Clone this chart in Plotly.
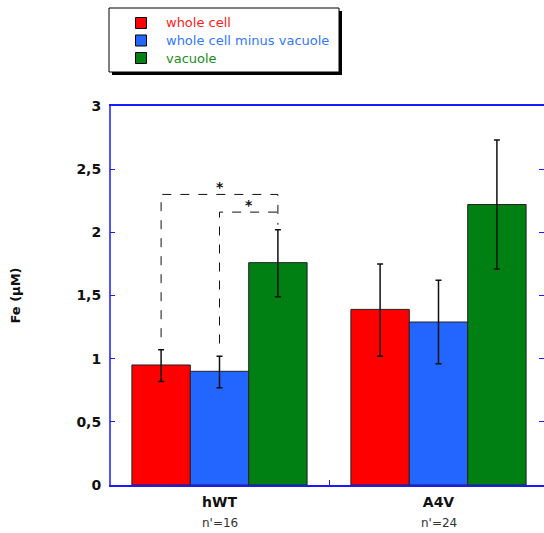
import plotly.graph_objects as go

categories = ["hWT", "A4V"]
n_labels = ["n'=16", "n'=24"]
series_names = ["whole cell", "whole cell minus vacuole", "vacuole"]
whole_cell = [0.95, 1.39]
whole_cell_err_plus = [0.12, 0.36]
whole_cell_err_minus = [0.13, 0.37]
minus_vacuole = [0.90, 1.29]
minus_vacuole_err_plus = [0.12, 0.33]
minus_vacuole_err_minus = [0.13, 0.33]
vacuole = [1.76, 2.22]
vacuole_err_plus = [0.26, 0.51]
vacuole_err_minus = [0.27, 0.51]
y_tickvals = [0, 0.5, 1, 1.5, 2, 2.5, 3]
y_ticktext = ["0", "0,5", "1", "1,5", "2", "2,5", "3"]

bar_colors = ["#ff0000", "#2266ff", "#008012"]
text_colors = ["#ff1a1a", "#3377ff", "#1a8c1a"]
FONT = "DejaVu Sans"

W, H = 544, 533
L, R, T, B = 110, 0, 106, 48
PW, PH = W - L - R, H - T - B

def px(xp):
    return (xp - L) / PW

def py(yp):
    return (H - B - yp) / PH

fig = go.Figure()
vals = [whole_cell, minus_vacuole, vacuole]
eplus = [whole_cell_err_plus, minus_vacuole_err_plus, vacuole_err_plus]
eminus = [whole_cell_err_minus, minus_vacuole_err_minus, vacuole_err_minus]
for i in range(3):
    fig.add_trace(go.Bar(
        x=categories, y=vals[i], name=series_names[i],
        marker=dict(color=bar_colors[i], line=dict(color="#222222", width=1)),
        error_y=dict(type="data", symmetric=False, array=eplus[i], arrayminus=eminus[i],
                     color="#111111", thickness=1.5, width=3),
        showlegend=False,
    ))

# significance brackets (hWT group)
off = 0.8 / 3
xr, xb, xg = -off, 0.0, off
top_outer, top_inner = 2.30, 2.16
left_outer_end = whole_cell[0] + whole_cell_err_plus[0] + 0.10
left_inner_end = minus_vacuole[0] + minus_vacuole_err_plus[0] + 0.10
right_end = vacuole[0] + vacuole_err_plus[0] + 0.04
dash = dict(color="#111111", width=1, dash="dash")
fig.add_shape(type="path", xref="x", yref="y", line=dash,
              path=f"M {xr} {left_outer_end} L {xr} {top_outer} L {xg} {top_outer} L {xg} {right_end}")
fig.add_shape(type="path", xref="x", yref="y", line=dash,
              path=f"M {xb} {left_inner_end} L {xb} {top_inner} L {xg} {top_inner}")
fig.add_annotation(x=(xr + xg) / 2, y=top_outer, text="<b>*</b>", showarrow=False,
                   yanchor="bottom", font=dict(size=14, color="#111111", family=FONT), yshift=-3)
fig.add_annotation(x=(xb + xg) / 2, y=top_inner, text="<b>*</b>", showarrow=False,
                   yanchor="bottom", font=dict(size=14, color="#111111", family=FONT), yshift=-3)

# n labels
for c, n in zip(categories, n_labels):
    fig.add_annotation(x=c, y=py(523), xref="x", yref="paper", text=n, showarrow=False,
                       yanchor="middle", font=dict(size=12, color="#333333", family=FONT))

# left axis line
fig.add_shape(type="line", xref="paper", yref="paper", x0=0, x1=0, y0=0, y1=1,
              line=dict(color="#1a1aff", width=1.5))

# custom legend
fig.add_shape(type="rect", xref="paper", yref="paper", x0=px(112), x1=px(342), y0=py(75), y1=py(11),
              fillcolor="#000000", line=dict(width=0))
fig.add_shape(type="rect", xref="paper", yref="paper", x0=px(109), x1=px(339), y0=py(72), y1=py(8),
              fillcolor="#ffffff", line=dict(color="#000000", width=1))
rows = [23, 40.5, 58]
for i in range(3):
    fig.add_shape(type="rect", xref="paper", yref="paper", x0=px(135.5), x1=px(146.5),
                  y0=py(rows[i] + 5.5), y1=py(rows[i] - 5.5),
                  fillcolor=bar_colors[i], line=dict(color="#000000", width=1))
    fig.add_annotation(x=px(164), y=py(rows[i]), xref="paper", yref="paper", text=series_names[i],
                       showarrow=False, xanchor="left", yanchor="middle",
                       font=dict(size=13, color=text_colors[i], family=FONT))

fig.update_layout(
    width=W, height=H, margin=dict(l=L, r=R, t=T, b=B),
    paper_bgcolor="white", plot_bgcolor="white",
    barmode="group", bargap=0.2, bargroupgap=0,
    font=dict(family=FONT, color="#111111"),
    xaxis=dict(type="category", range=[-0.5, 1.5 - 4 / 219], showgrid=False, zeroline=False,
               showline=True, linecolor="#1a1aff", linewidth=1.5, mirror=True,
               ticks="inside", ticklen=5, tickcolor="#1a1aff", tickson="boundaries",
               tickfont=dict(size=14, weight="bold", color="#111111", family=FONT), ticklabelstandoff=3),
    yaxis=dict(range=[0, 3], tickvals=y_tickvals, ticktext=y_ticktext, showgrid=False,
               zeroline=False, showline=True, linecolor="rgba(0,0,0,0)", mirror="ticks",
               ticks="inside", ticklen=5, tickcolor="#1a1aff",
               tickfont=dict(size=14, weight="bold", color="#111111", family=FONT), ticklabelstandoff=5,
               title=dict(text="Fe (µM)", font=dict(size=13, weight="bold", color="#111111", family=FONT),
                          standoff=52)),
)

fig.write_html("out.html")
